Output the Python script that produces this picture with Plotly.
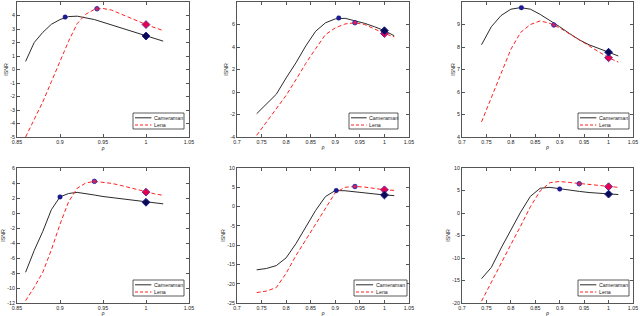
import plotly.graph_objects as go

# ---------------- data ----------------
rho_fine = [0.86, 0.87, 0.88, 0.89, 0.90, 0.91, 0.92, 0.93, 0.94, 0.95,
            0.96, 0.97, 0.98, 0.99, 1.00, 1.01, 1.02]
rho_wide = [0.74, 0.76, 0.78, 0.80, 0.82, 0.84, 0.86, 0.88, 0.90, 0.92,
            0.94, 0.96, 0.98, 1.00, 1.02]

cam_a = [0.6, 2.0, 2.75, 3.35, 3.7, 3.92, 3.95, 3.85, 3.7, 3.5,
         3.3, 3.1, 2.9, 2.7, 2.48, 2.3, 2.1]
lena_a = [-5.0, -3.7, -2.4, -0.9, 0.6, 2.1, 3.4, 4.1, 4.45, 4.52,
          4.4, 4.15, 3.9, 3.6, 3.33, 3.1, 2.88]

cam_b = [-1.93, -1.1, -0.2, 1.25, 2.6, 4.1, 5.4, 6.15, 6.5, 6.55,
         6.35, 6.1, 5.8, 5.45, 5.0]
lena_b = [-3.85, -2.7, -1.5, -0.3, 1.1, 2.55, 3.85, 5.1, 5.7, 6.05,
          6.15, 6.0, 5.6, 5.2, 4.9]

cam_c = [8.1, 8.9, 9.4, 9.68, 9.75, 9.68, 9.45, 9.18, 8.9, 8.6,
         8.32, 8.1, 7.92, 7.77, 7.6]
lena_c = [4.67, 5.75, 6.9, 7.9, 8.65, 9.0, 9.16, 9.05, 8.85, 8.58,
          8.3, 8.05, 7.78, 7.52, 7.33]

cam_d = [-7.9, -5.0, -2.45, 0.45, 2.15, 2.6, 2.75, 2.6, 2.4, 2.2,
         2.05, 1.9, 1.75, 1.6, 1.43, 1.32, 1.22]
lena_d = [-11.7, -9.9, -7.9, -4.9, -1.5, 1.5, 3.3, 4.0, 4.22, 4.1,
          3.95, 3.7, 3.4, 3.1, 2.78, 2.55, 2.36]

cam_e = [-16.4, -16.05, -15.3, -13.3, -9.6, -5.2, -1.0, 2.6, 4.15, 4.1,
         3.8, 3.5, 3.25, 3.0, 2.85]
lena_e = [-22.3, -21.9, -21.0, -17.3, -12.7, -8.7, -4.7, -0.6, 3.6, 5.0,
          5.2, 5.05, 4.7, 4.35, 4.2]

cam_f = [-14.6, -12.1, -7.8, -3.7, 0.2, 3.7, 5.5, 5.7, 5.35, 5.05,
         4.8, 4.55, 4.35, 4.2, 4.1]
lena_f = [-19.6, -15.3, -11.1, -7.0, -2.9, 1.4, 4.9, 6.75, 7.0, 6.8,
          6.5, 6.3, 6.05, 5.85, 5.7]

# estimated optimum rho markers (panels a..f)
peak_rho_cam = [0.906, 0.907, 0.8215, 0.90, 0.902, 0.90]
peak_isnr_cam = [3.88, 6.58, 9.75, 2.15, 4.15, 5.33]
peak_rho_lena = [0.943, 0.94, 0.888, 0.94, 0.94, 0.94]
peak_isnr_lena = [4.5, 6.16, 8.98, 4.22, 5.2, 6.5]

# tick labels
xticks_a = [0.85, 0.9, 0.95, 1, 1.05]
xticks_b = [0.7, 0.75, 0.8, 0.85, 0.9, 0.95, 1, 1.05]
yticks_a = [-5, -4, -3, -2, -1, 0, 1, 2, 3, 4, 5]
yticks_b = [-4, -2, 0, 2, 4, 6, 8]
yticks_c = [4, 5, 6, 7, 8, 9, 10]
yticks_d = [-12, -10, -8, -6, -4, -2, 0, 2, 4, 6]
yticks_e = [-25, -20, -15, -10, -5, 0, 5, 10]
yticks_f = [-20, -15, -10, -5, 0, 5, 10]

series_names = ["Cameraman", "Lena"]

# ---------------- layout ----------------
W, H = 640, 316
panels = [
    dict(rho=rho_fine, cam=cam_a, lena=lena_a, xt=xticks_a, yt=yticks_a,
         xr=[0.85, 1.05], yr=[-5, 5], px=(17, 189), py=(2, 137), lg=(133, 184, 113, 129)),
    dict(rho=rho_wide, cam=cam_b, lena=lena_b, xt=xticks_b, yt=yticks_b,
         xr=[0.7, 1.05], yr=[-4, 8], px=(237, 409), py=(2, 137), lg=(349, 398, 113, 129)),
    dict(rho=rho_wide, cam=cam_c, lena=lena_c, xt=xticks_b, yt=yticks_c,
         xr=[0.7, 1.05], yr=[4, 10], px=(462, 633), py=(2, 137), lg=(578, 629, 113, 129)),
    dict(rho=rho_fine, cam=cam_d, lena=lena_d, xt=xticks_a, yt=yticks_d,
         xr=[0.85, 1.05], yr=[-12, 6], px=(17, 189), py=(168, 303), lg=(133, 184, 280, 296)),
    dict(rho=rho_wide, cam=cam_e, lena=lena_e, xt=xticks_b, yt=yticks_e,
         xr=[0.7, 1.05], yr=[-25, 10], px=(237, 409), py=(168, 303), lg=(354, 407, 280, 296)),
    dict(rho=rho_wide, cam=cam_f, lena=lena_f, xt=xticks_b, yt=yticks_f,
         xr=[0.7, 1.05], yr=[-20, 10], px=(462, 633), py=(168, 303), lg=(578, 629, 280, 296)),
]

CAM_COLOR = "#2b2b2b"
LENA_COLOR = "#ff2020"
AX_COLOR = "#555555"
FONT = "Liberation Sans, Arial, sans-serif"


def fmt(v):
    return "%g" % v


fig = go.Figure()
shapes = []
annotations = []
layout_axes = {}

for i, p in enumerate(panels):
    n = "" if i == 0 else str(i + 1)
    xa, ya = "x" + n, "y" + n
    # curves
    fig.add_trace(go.Scatter(x=p["rho"], y=p["cam"], mode="lines", name=series_names[0],
                             line=dict(color=CAM_COLOR, width=1), xaxis=xa, yaxis=ya,
                             showlegend=False))
    fig.add_trace(go.Scatter(x=p["rho"], y=p["lena"], mode="lines", name=series_names[1],
                             line=dict(color=LENA_COLOR, width=1, dash="4px,2.5px"),
                             xaxis=xa, yaxis=ya, showlegend=False))
    # markers at rho = 1
    k = p["rho"].index(1.0)
    fig.add_trace(go.Scatter(x=[p["rho"][k]], y=[p["lena"][k]], mode="markers",
                             marker=dict(symbol="diamond", size=6, color="#e8004a",
                                         line=dict(color="#6a2aa0", width=1)),
                             xaxis=xa, yaxis=ya, showlegend=False))
    fig.add_trace(go.Scatter(x=[p["rho"][k]], y=[p["cam"][k]], mode="markers",
                             marker=dict(symbol="diamond", size=6, color="#0a0a50",
                                         line=dict(color="#1a1a90", width=1)),
                             xaxis=xa, yaxis=ya, showlegend=False))
    # estimated optimum markers
    fig.add_trace(go.Scatter(x=[peak_rho_lena[i]], y=[peak_isnr_lena[i]], mode="markers",
                             marker=dict(symbol="circle", size=4.5, color="#d8205a",
                                         line=dict(color="#3030b0", width=1)),
                             xaxis=xa, yaxis=ya, showlegend=False))
    fig.add_trace(go.Scatter(x=[peak_rho_cam[i]], y=[peak_isnr_cam[i]], mode="markers",
                             marker=dict(symbol="circle", size=4.5, color="#1a1a9a",
                                         line=dict(color="#101070", width=0.5)),
                             xaxis=xa, yaxis=ya, showlegend=False))

    x0, x1 = p["px"]
    y0, y1 = p["py"]
    xdom = [x0 / W, x1 / W]
    ydom = [1 - y1 / H, 1 - y0 / H]
    common = dict(showline=True, linecolor=AX_COLOR, linewidth=1, mirror="allticks",
                  ticks="inside", ticklen=3, tickwidth=1, tickcolor=AX_COLOR,
                  showgrid=False, zeroline=False, automargin=False,
                  tickfont=dict(size=5.3, color="#222", family=FONT))
    layout_axes["xaxis" + n] = dict(
        common, domain=xdom, range=p["xr"], anchor=ya,
        tickvals=p["xt"], ticktext=[fmt(v) for v in p["xt"]],
        title=dict(text="ρ", font=dict(size=5.5, color="#222", family=FONT), standoff=0))
    layout_axes["yaxis" + n] = dict(
        common, domain=ydom, range=p["yr"], anchor=xa,
        tickvals=p["yt"], ticktext=[fmt(v) for v in p["yt"]],
        title=dict(text="ISNR", font=dict(size=5.3, color="#222", family=FONT), standoff=1))

    # legend box
    lx0, lx1, ly0, ly1 = p["lg"]
    shapes.append(dict(type="rect", xref="paper", yref="paper",
                       x0=lx0 / W, x1=lx1 / W, y0=1 - ly1 / H, y1=1 - ly0 / H,
                       line=dict(color="#333", width=0.8), fillcolor="white", layer="above"))
    r1 = ly0 + (ly1 - ly0) * 0.3
    r2 = ly0 + (ly1 - ly0) * 0.75
    sx0 = lx0 + 2
    sx1 = lx0 + (lx1 - lx0) * 0.36
    shapes.append(dict(type="line", xref="paper", yref="paper",
                       x0=sx0 / W, x1=sx1 / W, y0=1 - r1 / H, y1=1 - r1 / H,
                       line=dict(color=CAM_COLOR, width=1), layer="above"))
    shapes.append(dict(type="line", xref="paper", yref="paper",
                       x0=sx0 / W, x1=sx1 / W, y0=1 - r2 / H, y1=1 - r2 / H,
                       line=dict(color=LENA_COLOR, width=1, dash="3px,2px"), layer="above"))
    for txt, r in zip(series_names, (r1, r2)):
        annotations.append(dict(text=txt, xref="paper", yref="paper",
                                x=(sx1 + 0.5) / W, y=1 - r / H, xanchor="left", yanchor="middle",
                                showarrow=False, font=dict(size=5.3, color="#222", family=FONT)))

fig.update_layout(
    width=W, height=H, margin=dict(l=0, r=0, t=0, b=0, autoexpand=False),
    paper_bgcolor="white", plot_bgcolor="white",
    shapes=shapes, annotations=annotations,
    font=dict(family=FONT, size=6, color="#222"),
    **layout_axes,
)

fig.write_html("out.html", config={"displayModeBar": False},
               post_script="document.body.style.margin='0';document.body.style.padding='0';"
                           "document.body.style.overflow='hidden';")
